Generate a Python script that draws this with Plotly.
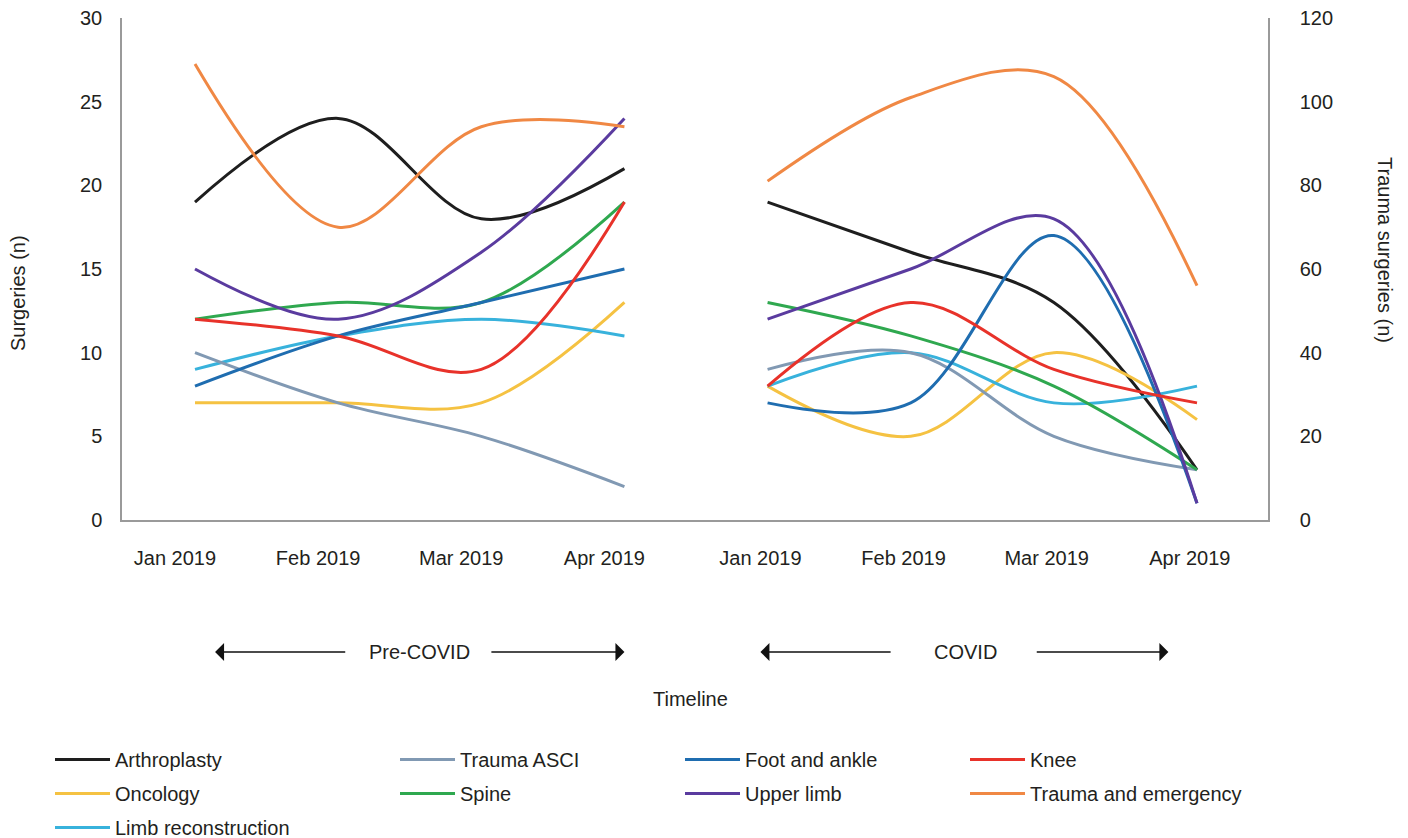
import plotly.graph_objects as go

# ---------------- data ----------------
months = ["Jan 2019", "Feb 2019", "Mar 2019", "Apr 2019"]
period_labels = ["Pre-COVID", "COVID"]

arthroplasty_pre = [19, 24, 18, 21]
arthroplasty_covid = [19, 16, 13, 3]
trauma_asci_pre = [10, 7, 5, 2]
trauma_asci_covid = [9, 10, 5, 3]
foot_ankle_pre = [8, 11, 13, 15]
foot_ankle_covid = [7, 7, 17, 1]
knee_pre = [12, 11, 9, 19]
knee_covid = [8, 13, 9, 7]
oncology_pre = [7, 7, 7, 13]
oncology_covid = [8, 5, 10, 6]
spine_pre = [12, 13, 13, 19]
spine_covid = [13, 11, 8, 3]
upper_limb_pre = [15, 12, 16, 24]
upper_limb_covid = [12, 15, 18, 1]
trauma_emergency_pre = [109, 70, 94, 94]      # right axis
trauma_emergency_covid = [81, 101, 106, 56]   # right axis
limb_recon_pre = [9, 11, 12, 11]
limb_recon_covid = [8, 10, 7, 8]

# ---------------- series definitions ----------------
series = [
    # name, pre, covid, color, yaxis, legend
    ("Arthroplasty", arthroplasty_pre, arthroplasty_covid, "#1e1e1e", "y", "legend"),
    ("Oncology", oncology_pre, oncology_covid, "#f5c242", "y", "legend"),
    ("Limb reconstruction", limb_recon_pre, limb_recon_covid, "#38b2dc", "y", "legend"),
    ("Trauma ASCI", trauma_asci_pre, trauma_asci_covid, "#8199b3", "y", "legend2"),
    ("Spine", spine_pre, spine_covid, "#2fa84f", "y", "legend2"),
    ("Foot and ankle", foot_ankle_pre, foot_ankle_covid, "#1f6db0", "y", "legend3"),
    ("Upper limb", upper_limb_pre, upper_limb_covid, "#5a3b9f", "y", "legend3"),
    ("Knee", knee_pre, knee_covid, "#e8322a", "y", "legend4"),
    ("Trauma and emergency", trauma_emergency_pre, trauma_emergency_covid, "#f08844", "y2", "legend4"),
]

n = len(months)
x_pre = list(range(n))
x_covid = [n + i for i in range(n)]

FONT = "Liberation Sans, Arial, sans-serif"
TXT = "#231f20"

# plot-area geometry (reference pixels) used to place annotations in paper units
L, R, T, B = 122, 1268, 18, 520
OFF = 8  # page body margin offset
def px(xp):
    return (xp - L) / (R - L)
def py(yp):
    return (B - yp) / (B - T)

fig = go.Figure()
for name, pre, cov, color, yax, leg in series:
    fig.add_trace(go.Scatter(
        x=x_pre + [None] + x_covid,
        y=list(pre) + [None] + list(cov),
        name=name,
        mode="lines",
        line=dict(color=color, width=3, shape="spline", smoothing=1.0),
        connectgaps=False,
        yaxis=yax,
        legend=leg,
        legendgroup=name,
    ))

# tick labels are slightly left of the data points in the reference
tick_pos = [x - 0.14 for x in x_pre] + [x - 0.05 for x in x_covid]

fig.update_layout(
    width=1408, height=838,
    paper_bgcolor="white", plot_bgcolor="white",
    font=dict(family=FONT, size=20, color=TXT),
    margin=dict(l=L - OFF, r=1408 - R + OFF, t=T - OFF, b=838 - B + OFF,
                autoexpand=False),
    showlegend=True,
    xaxis=dict(
        range=[-0.51, 7.496], showgrid=False, zeroline=False,
        showline=True, linecolor="#9a9a9a", linewidth=1.5,
        tickmode="array", tickvals=tick_pos, ticktext=months + months,
        ticks="", ticklabelstandoff=19, tickangle=0, automargin=False,
    ),
    yaxis=dict(
        range=[0, 30], dtick=5, showgrid=False, zeroline=False,
        showline=True, linecolor="#9a9a9a", linewidth=1.5,
        ticks="", ticklabelstandoff=14, automargin=False,
        ticklabeloverflow="allow",
    ),
    yaxis2=dict(
        range=[0, 120], dtick=20, overlaying="y", side="right",
        showgrid=False, zeroline=False,
        showline=True, linecolor="#9a9a9a", linewidth=1.5,
        ticks="", ticklabelstandoff=26, automargin=False,
        ticklabeloverflow="allow",
    ),
)

leg_common = dict(orientation="v", xref="container", yref="container",
                  yanchor="top", xanchor="left", bgcolor="rgba(0,0,0,0)",
                  font=dict(family=FONT, size=20, color=TXT),
                  tracegroupgap=5, itemwidth=55)
LEG_TOP = 1 - 732 / 838
fig.update_layout(
    legend=dict(x=42 / 1408, y=LEG_TOP, **leg_common),
    legend2=dict(x=387 / 1408, y=LEG_TOP, **leg_common),
    legend3=dict(x=672 / 1408, y=LEG_TOP, **leg_common),
    legend4=dict(x=957 / 1408, y=LEG_TOP, **leg_common),
)

annotations = [
    dict(text="Surgeries (n)", xref="paper", yref="paper",
         x=px(18), y=py(293), textangle=-90, showarrow=False,
         xanchor="center", yanchor="middle"),
    dict(text="Trauma surgeries (n)", xref="paper", yref="paper",
         x=px(1385), y=py(250), textangle=90, showarrow=False,
         xanchor="center", yanchor="middle"),
    dict(text=period_labels[0], xref="x", yref="paper", x=1.57, y=py(652),
         showarrow=False, xanchor="center", yanchor="middle"),
    dict(text=period_labels[1], xref="x", yref="paper", x=5.38, y=py(652),
         showarrow=False, xanchor="center", yanchor="middle"),
    dict(text="Timeline", xref="x", yref="paper", x=3.46, y=py(699),
         showarrow=False, xanchor="center", yanchor="middle"),
]
# arrows: (head, tail) in x-axis units
arrows = [(0.14, 1.06), (3.0, 2.06), (3.95, 4.87), (6.80, 5.87)]
for head, tail in arrows:
    annotations.append(dict(
        text="", x=head, y=py(652), xref="x", yref="paper",
        ax=tail, ay=0, axref="x", ayref="pixel",
        showarrow=True, arrowhead=1, arrowsize=2, arrowwidth=1.5,
        arrowcolor="#111111",
    ))
fig.update_layout(annotations=annotations)

fig.write_html("out.html")
